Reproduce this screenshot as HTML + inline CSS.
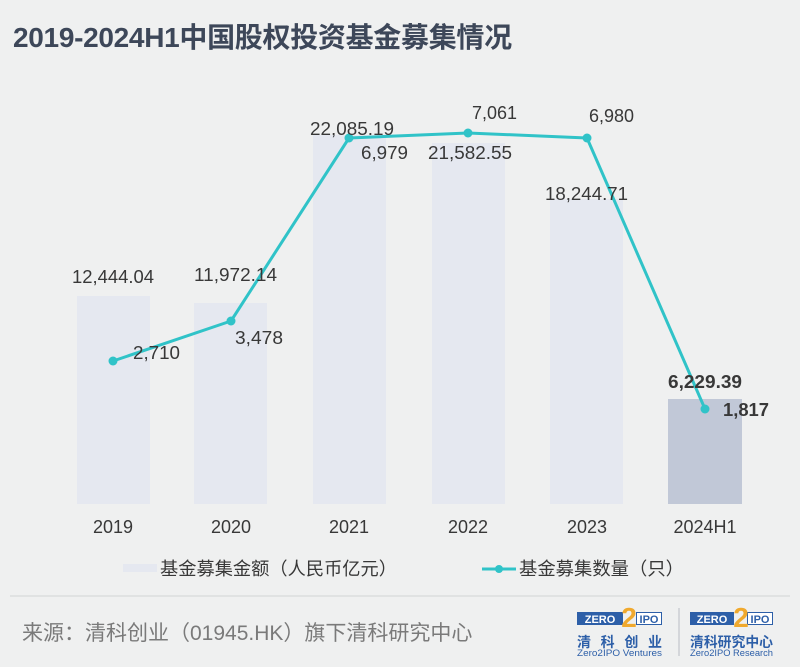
<!DOCTYPE html>
<html><head><meta charset="utf-8"><style>
html,body{margin:0;padding:0;background:#eff0f0;}
svg{display:block;}
text{font-family:"Liberation Sans","Noto Sans CJK SC",sans-serif;}
</style></head><body>
<svg width="800" height="667" viewBox="0 0 800 667" xmlns="http://www.w3.org/2000/svg">
<rect x="0" y="0" width="800" height="667" fill="#eff0f0"/>
<text x="13" y="47" font-size="28" font-weight="bold" fill="#3d4759" letter-spacing="-0.3">2019-2024H1中国股权投资基金募集情况</text>

<!-- bars -->
<g fill="#e5e8f0">
<rect x="77" y="296" width="73" height="208"/>
<rect x="194" y="303" width="73" height="201"/>
<rect x="313" y="135" width="73" height="369"/>
<rect x="432" y="143" width="73" height="361"/>
<rect x="550" y="199" width="73" height="305"/>
</g>
<rect x="668" y="399" width="74" height="105" fill="#c1c8d7"/>

<!-- line -->
<polyline points="113,361 231,321 349,138 468,133 587,138 705,409" fill="none" stroke="#30c3c8" stroke-width="3" stroke-linejoin="round"/>
<g fill="#30c3c8">
<circle cx="113" cy="361" r="4.5"/>
<circle cx="231" cy="321" r="4.5"/>
<circle cx="349" cy="138" r="4.5"/>
<circle cx="468" cy="133" r="4.5"/>
<circle cx="587" cy="138" r="4.5"/>
<circle cx="705" cy="409" r="4.5"/>
</g>

<!-- labels -->
<g font-size="18" fill="#383838">
<text x="72" y="283" textLength="82" lengthAdjust="spacingAndGlyphs">12,444.04</text>
<text x="194" y="281" textLength="83" lengthAdjust="spacingAndGlyphs">11,972.14</text>
<text x="310" y="135" textLength="84" lengthAdjust="spacingAndGlyphs">22,085.19</text>
<text x="428" y="159" textLength="84" lengthAdjust="spacingAndGlyphs">21,582.55</text>
<text x="545" y="200" textLength="83" lengthAdjust="spacingAndGlyphs">18,244.71</text>
<text x="133" y="359" textLength="47" lengthAdjust="spacingAndGlyphs">2,710</text>
<text x="235" y="344" textLength="48" lengthAdjust="spacingAndGlyphs">3,478</text>
<text x="361" y="159" textLength="47" lengthAdjust="spacingAndGlyphs">6,979</text>
<text x="472" y="119" textLength="45" lengthAdjust="spacingAndGlyphs">7,061</text>
<text x="589" y="122" textLength="45" lengthAdjust="spacingAndGlyphs">6,980</text>
</g>
<g font-size="18" font-weight="bold" fill="#383838">
<text x="668" y="388" textLength="74" lengthAdjust="spacingAndGlyphs">6,229.39</text>
<text x="723" y="416" textLength="46" lengthAdjust="spacingAndGlyphs">1,817</text>
</g>

<!-- x axis labels -->
<g font-size="18" fill="#383838" text-anchor="middle">
<text x="113" y="533">2019</text>
<text x="231" y="533">2020</text>
<text x="349" y="533">2021</text>
<text x="468" y="533">2022</text>
<text x="587" y="533">2023</text>
<text x="705" y="533">2024H1</text>
</g>

<!-- legend -->
<rect x="123" y="564" width="34" height="8" fill="#e5e8f0"/>
<text x="160" y="575" font-size="18" fill="#383838" textLength="237" lengthAdjust="spacingAndGlyphs">基金募集金额（人民币亿元）</text>
<line x1="482" y1="569" x2="516" y2="569" stroke="#30c3c8" stroke-width="3"/>
<circle cx="499" cy="569" r="4" fill="#30c3c8"/>
<text x="519" y="575" font-size="18" fill="#383838" textLength="165" lengthAdjust="spacingAndGlyphs">基金募集数量（只）</text>

<!-- separator -->
<line x1="10" y1="596" x2="790" y2="596" stroke="#dcdddd" stroke-width="1.5"/>

<!-- source -->
<text x="22" y="640" font-size="21" fill="#7a7a7a">来源：清科创业（01945.HK）旗下清科研究中心</text>

<!-- logo 1 -->
<rect x="577" y="612" width="46" height="13" fill="#2d5fa8"/>
<text x="600" y="623" font-size="11" font-weight="bold" fill="#ffffff" text-anchor="middle">ZERO</text>
<rect x="636.5" y="612.5" width="25" height="12" fill="#ffffff" stroke="#2d5fa8" stroke-width="1"/>
<text x="649" y="623" font-size="11" font-weight="bold" fill="#2d5fa8" text-anchor="middle">IPO</text>
<text x="629" y="627" font-size="28" font-weight="bold" fill="#f0a92e" text-anchor="middle">2</text>
<text x="577" y="647" font-size="14" font-weight="bold" fill="#2d5fa8" textLength="85" lengthAdjust="spacing">清科创业</text>
<text x="577" y="656" font-size="9" fill="#2d5fa8" textLength="85" lengthAdjust="spacingAndGlyphs">Zero2IPO Ventures</text>

<line x1="679" y1="608" x2="679" y2="656" stroke="#b8bcc4" stroke-width="1"/>

<!-- logo 2 -->
<rect x="690" y="612" width="44" height="13" fill="#2d5fa8"/>
<text x="712" y="623" font-size="11" font-weight="bold" fill="#ffffff" text-anchor="middle">ZERO</text>
<rect x="747.5" y="612.5" width="25" height="12" fill="#ffffff" stroke="#2d5fa8" stroke-width="1"/>
<text x="760" y="623" font-size="11" font-weight="bold" fill="#2d5fa8" text-anchor="middle">IPO</text>
<text x="741" y="627" font-size="28" font-weight="bold" fill="#f0a92e" text-anchor="middle">2</text>
<text x="690" y="647" font-size="14" font-weight="bold" fill="#2d5fa8" textLength="83" lengthAdjust="spacingAndGlyphs">清科研究中心</text>
<text x="690" y="656" font-size="9" fill="#2d5fa8" textLength="83" lengthAdjust="spacingAndGlyphs">Zero2IPO Research</text>
</svg>
</body></html>
